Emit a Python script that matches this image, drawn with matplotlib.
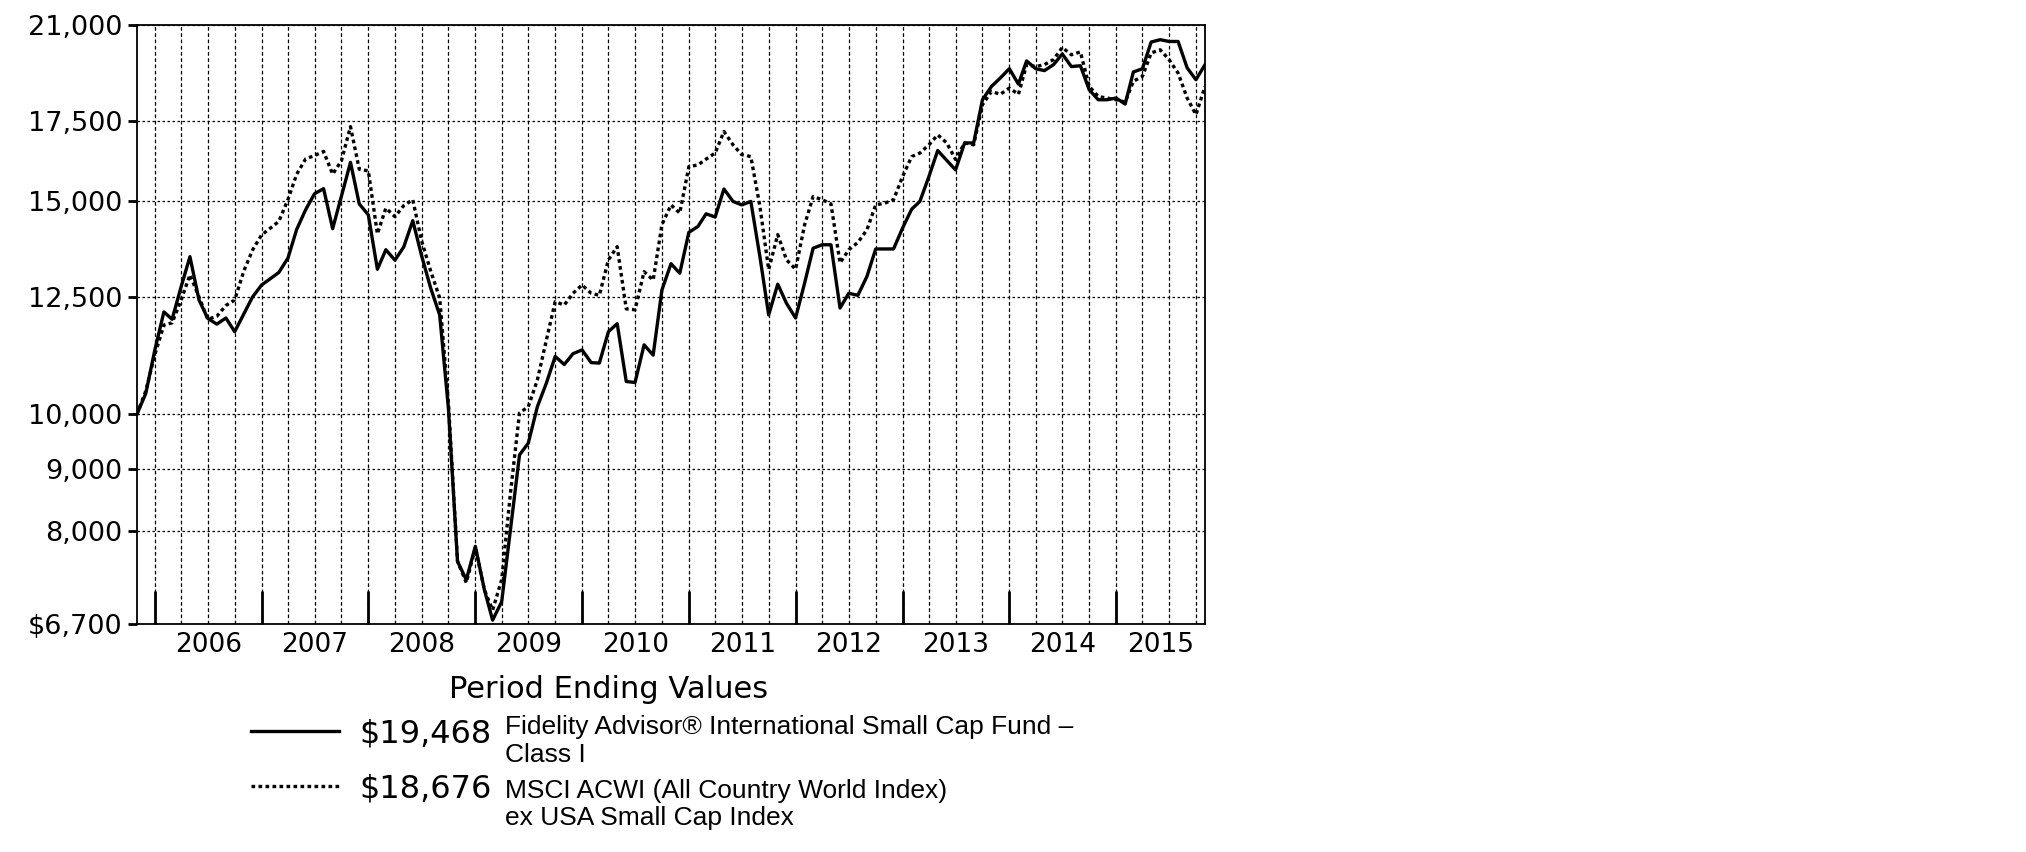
import numpy as np
import pandas as pd
import matplotlib
matplotlib.use('Agg')
import matplotlib.pyplot as plt
import matplotlib.transforms as mtransforms
from matplotlib.ticker import FixedLocator, FixedFormatter, NullLocator
from matplotlib.lines import Line2D

# monthly values, Oct 31 2005 .. Oct 31 2015 (hypothetical $10,000 investment)
dates = pd.date_range('2005-10-31', periods=121, freq='ME')

fund = [10000, 10400, 11300, 12150, 11980, 12750, 13500, 12430, 12000, 11870,
        12010, 11700, 12100, 12500, 12790, 12950, 13100, 13460, 14220, 14770,
        15220, 15370, 14240, 15150, 16160, 14930, 14620, 13180, 13680, 13410,
        13750, 14460, 13530, 12720, 12080, 10100, 7550, 7290, 7770, 7150,
        6750, 6990, 8020, 9250, 9460, 10140, 10610, 11160, 10990, 11220,
        11300, 11030, 11020, 11700, 11880, 10640, 10620, 11410, 11190, 12670,
        13320, 13080, 14140, 14300, 14650, 14560, 15360, 15000, 14900, 15000,
        13500, 12080, 12810, 12350, 12010, 12840, 13720, 13810, 13810, 12240,
        12590, 12540, 13000, 13700, 13700, 13700, 14260, 14780, 15000, 15730,
        16530, 16220, 15930, 16770, 16770, 18210, 18680, 18980, 19320, 18760,
        19610, 19320, 19250, 19470, 19870, 19400, 19430, 18560, 18210, 18210,
        18270, 18060, 19200, 19320, 20330, 20420, 20350, 20350, 19350, 18920,
        19468]

index = [10000, 10450, 11200, 11850, 11900, 12430, 13040, 12500, 11980, 12050,
         12300, 12430, 13130, 13670, 14070, 14260, 14440, 15050, 15800, 16270,
         16370, 16500, 15800, 16210, 17300, 15950, 15900, 14100, 14810, 14570,
         14880, 15050, 13920, 13140, 12480, 10210, 7550, 7250, 7750, 7150,
         6880, 7290, 8600, 10020, 10140, 10670, 11520, 12390, 12310, 12590,
         12790, 12590, 12540, 13420, 13760, 12220, 12200, 13120, 12910, 14350,
         14900, 14670, 16030, 16080, 16260, 16450, 17140, 16710, 16400, 16340,
         14860, 13170, 14080, 13420, 13180, 14350, 15140, 15050, 14930, 13340,
         13680, 13870, 14210, 14900, 14950, 15050, 15730, 16340, 16450, 16710,
         17030, 16770, 16250, 16770, 16710, 18040, 18500, 18400, 18620, 18400,
         19470, 19400, 19470, 19660, 20120, 19840, 19950, 18680, 18320, 18270,
         18210, 18130, 18860, 19040, 19910, 20030, 19660, 19160, 18270, 17700,
         18676]

y_ticks = [6700, 8000, 9000, 10000, 12500, 15000, 17500, 21000]
y_labels = ['\\$6,700', '8,000', '9,000', '10,000', '12,500', '15,000', '17,500', '21,000']
years = list(range(2006, 2016))

fund_name = ['Fidelity Advisor® International Small Cap Fund –', 'Class I']
index_name = ['MSCI ACWI (All Country World Index)', 'ex USA Small Cap Index']
fund_end = '\\$19,468'
index_end = '\\$18,676'

W, H = 2026, 852
fig = plt.figure(figsize=(W / 100, H / 100), dpi=100)
ax = fig.add_axes([137 / W, 1 - 624 / H, 1068 / W, 599 / H])

ax.plot(dates, fund, color='black', lw=2.4)
ax.plot(dates, index, color='black', lw=2.4, ls=(0, (1.1, 1.0)))

ax.set_yscale('log')
ax.set_ylim(6700, 21000)
ax.set_xlim(dates[0], dates[-1])
ax.yaxis.set_major_locator(FixedLocator(y_ticks))
ax.yaxis.set_major_formatter(FixedFormatter(y_labels))
ax.yaxis.set_minor_locator(NullLocator())
ax.tick_params(axis='y', which='major', direction='out', length=6.5, width=2,
               labelsize=19.5, pad=4)

# year boundaries (tall inward ticks) and quarter grid
year_ends = pd.to_datetime([f'{y}-12-31' for y in range(2005, 2015)])
quarters = dates[2::3]
ax.xaxis.set_major_locator(FixedLocator(matplotlib.dates.date2num(year_ends)))
ax.xaxis.set_minor_locator(FixedLocator(matplotlib.dates.date2num(quarters)))
ax.xaxis.remove_overlapping_locs = False
ax.tick_params(axis='x', which='major', direction='in', length=24, width=2,
               labelbottom=False)
ax.tick_params(axis='x', which='minor', length=0, labelbottom=False)

ax.grid(axis='y', which='major', color='black', lw=0.9, ls=(0, (2, 2)))
ax.grid(axis='x', which='minor', color='black', lw=0.9, ls=(0, (3, 2)))
ax.set_axisbelow(True)

for s in ax.spines.values():
    s.set_linewidth(1.3)

trans = mtransforms.blended_transform_factory(ax.transData, ax.transAxes)
for y in years:
    start = pd.Timestamp(f'{y - 1}-12-31')
    end = min(pd.Timestamp(f'{y}-12-31'), dates[-1])
    mid = start + (end - start) / 2
    ax.text(mid, -8 / 599, str(y), transform=trans, ha='center', va='top', fontsize=19)

def fx(px):
    return px / W

def fy(py):
    return 1 - py / H

fig.text(fx(609), fy(689), 'Period Ending Values', ha='center', va='center', fontsize=22)

fig.add_artist(Line2D([fx(251), fx(339)], [fy(731), fy(731)], color='black', lw=2.4))
fig.add_artist(Line2D([fx(251), fx(339)], [fy(786), fy(786)], color='black', lw=2.4,
                      ls=(0, (1.1, 1.0))))

fig.text(fx(359), fy(734), fund_end, ha='left', va='center', fontsize=23)
fig.text(fx(359), fy(789), index_end, ha='left', va='center', fontsize=23)

sans = ['Liberation Sans', 'DejaVu Sans']
fig.text(fx(505), fy(727), fund_name[0], ha='left', va='center', fontsize=19, family=sans)
fig.text(fx(505), fy(755), fund_name[1], ha='left', va='center', fontsize=19, family=sans)
fig.text(fx(505), fy(791), index_name[0], ha='left', va='center', fontsize=19, family=sans)
fig.text(fx(505), fy(818), index_name[1], ha='left', va='center', fontsize=19, family=sans)

fig.savefig('out.png', dpi=100, facecolor='white')
